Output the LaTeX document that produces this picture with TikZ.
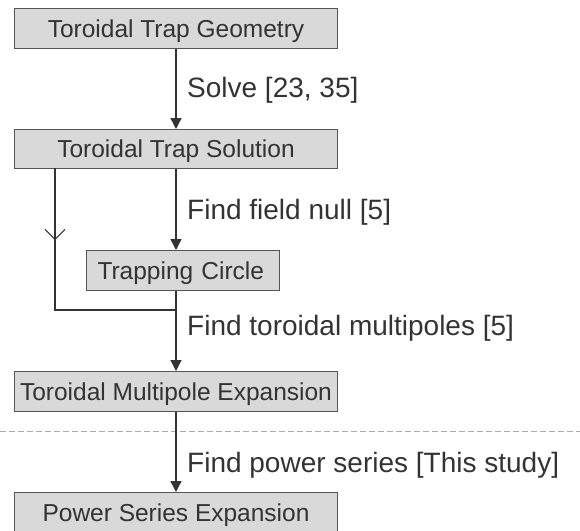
\documentclass[tikz,border=0pt]{standalone}
\usepackage{fontspec}
\setmainfont{Liberation Sans}
\usetikzlibrary{arrows.meta,decorations.markings}
\definecolor{boxfill}{HTML}{D9D9D9}
\definecolor{boxline}{HTML}{555555}
\definecolor{ink}{HTML}{333333}
\definecolor{sepline}{HTML}{AAAAAA}
\tikzset{
  stagebox/.style={draw=boxline, fill=boxfill, line width=1pt, minimum height=40pt,
    inner sep=0pt, text=ink, font=\fontsize{24.5pt}{27pt}\selectfont, anchor=north west,
    text height=17.5pt, text depth=0pt},
  flow/.style={draw=ink, line width=1.4pt, -{Triangle[length=11pt,width=11pt]}},
  plainflow/.style={draw=ink, line width=1.4pt},
  steplabel/.style={text=ink, font=\fontsize{28pt}{31pt}\selectfont, anchor=west, inner sep=0pt,
    text height=20pt, text depth=0pt},
  sep/.style={draw=sepline, line width=0.8pt, dash pattern=on 6pt off 3pt}
}
\begin{document}
\begin{tikzpicture}[x=1pt,y=-1pt]
\useasboundingbox (0,0) rectangle (580,530);
\clip (0,0) rectangle (580,530);
\node[stagebox, minimum width=323pt] (geo) at (14,8) {Toroidal Trap Geometry};
\node[stagebox, minimum width=323pt, minimum height=39pt] (sol) at (14,129) {Toroidal Trap Solution};
\node[stagebox, minimum width=193pt, text width=171pt, align=left, inner xsep=11pt] (circ) at (86,250) {Trapping Circle};
\node[stagebox, minimum width=323pt] (mpe) at (14,371) {Toroidal Multipole Expansion};
\node[stagebox, minimum width=323pt] (pse) at (14,492) {Power Series Expansion};
\coordinate (join) at (176,310);
\coordinate (lefttop) at (55,168);
\coordinate (leftcorner) at (55,310);
\draw[sep] (0,431) -- (580,431);
\draw[flow] (geo.south -| join) -- (sol.north -| join);
\draw[flow] (sol.south -| join) -- (circ.north -| join);
\draw[plainflow] (circ.south -| join) -- (join);
\draw[flow] (join) -- (mpe.north -| join);
\draw[flow] (mpe.south -| join) -- (pse.north -| join);
\draw[plainflow, postaction={decorate}, decoration={markings,
  mark=at position 72pt with {\arrow[ink, line width=1pt]{Straight Barb[length=10pt,width=20pt]}}}]
  (lefttop) -- (leftcorner) -- (join);
\node[steplabel] (l1) at (187,87) {Solve [23, 35]};
\node[steplabel] (l2) at (187,209.5) {Find field null [5]};
\node[steplabel] (l3) at (187,325) {Find toroidal multipoles [5]};
\node[steplabel] (l4) at (187,462) {Find power series [This study]};
\end{tikzpicture}
\end{document}
